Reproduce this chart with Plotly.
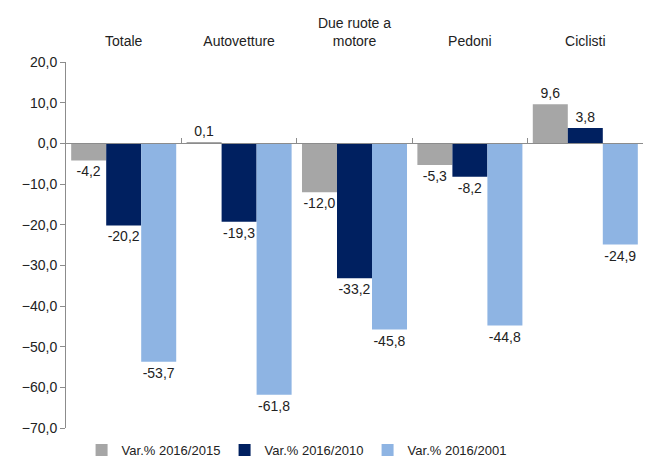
import plotly.graph_objects as go

categorie = ["Totale", "Autovetture", "Due ruote a<br>motore", "Pedoni", "Ciclisti"]
var_2016_2015 = [-4.2, 0.1, -12.0, -5.3, 9.6]
var_2016_2010 = [-20.2, -19.3, -33.2, -8.2, 3.8]
var_2016_2001 = [-53.7, -61.8, -45.8, -44.8, -24.9]

serie = [
    ("Var.% 2016/2015", var_2016_2015, "#A6A6A6"),
    ("Var.% 2016/2010", var_2016_2010, "#002060"),
    ("Var.% 2016/2001", var_2016_2001, "#8EB4E3"),
]

FONT = "Liberation Sans, Arial"

fig = go.Figure()
for nome, valori, colore in serie:
    fig.add_trace(go.Bar(
        x=categorie,
        y=valori,
        name=nome,
        marker=dict(color=colore, line=dict(width=0)),
        texttemplate="%{y:.1f}",
        textposition="outside",
        textfont=dict(family=FONT, size=14, color="#222222"),
        constraintext="none",
        cliponaxis=False,
    ))

# asse "fantasma" per la linea dello zero con i tick tra le categorie
fig.add_trace(go.Bar(x=categorie, y=[None] * 5, xaxis="x2", showlegend=False, hoverinfo="skip"))

# il body della pagina ha un margine di 8px: lo compenso nei margini
fig.update_layout(
    width=657,
    height=473,
    barmode="group",
    bargap=0.09,
    bargroupgap=0,
    separators=",.",
    plot_bgcolor="white",
    paper_bgcolor="white",
    font=dict(family=FONT, size=14, color="#222222"),
    margin=dict(l=58, r=22, t=54, b=53),
    xaxis=dict(
        side="top",
        showline=False,
        ticks="",
        showgrid=False,
        automargin=False,
        ticklabelstandoff=12,
        tickfont=dict(family=FONT, size=14, color="#222222"),
    ),
    xaxis2=dict(
        overlaying="x",
        anchor="free",
        position=70 / 90,
        showline=True,
        linecolor="#8C8C8C",
        linewidth=1,
        ticks="inside",
        ticklen=5,
        tickcolor="#8C8C8C",
        tickson="boundaries",
        showticklabels=False,
        showgrid=False,
        automargin=False,
        categoryorder="array",
        categoryarray=categorie,
    ),
    yaxis=dict(
        range=[-70, 20],
        dtick=10,
        tickformat=".1f",
        showgrid=False,
        zeroline=False,
        showline=True,
        linecolor="#8C8C8C",
        ticks="outside",
        ticklen=5,
        tickcolor="#8C8C8C",
        automargin=False,
        tickfont=dict(family=FONT, size=14, color="#222222"),
    ),
    legend=dict(
        orientation="h",
        x=0.027,
        xanchor="left",
        y=-0.06,
        yanchor="middle",
        font=dict(family=FONT, size=13, color="#222222"),
        entrywidth=98,
        itemwidth=30,
    ),
)

fig.write_html("out.html")
